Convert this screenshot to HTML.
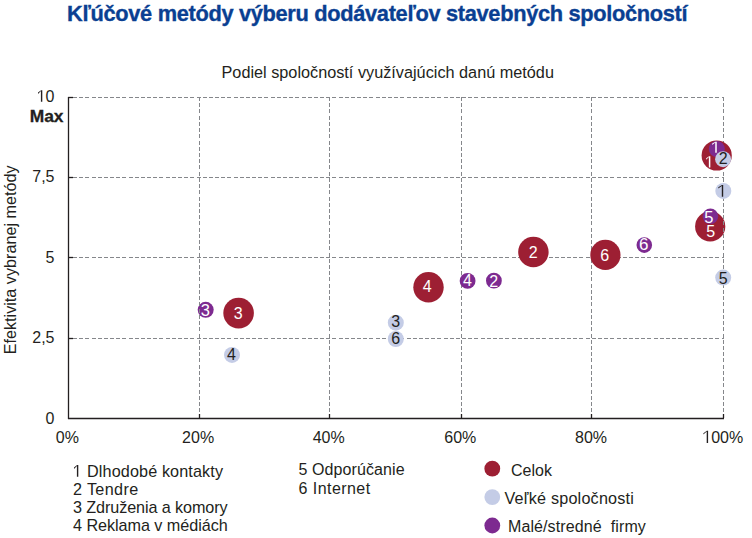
<!DOCTYPE html>
<html><head><meta charset="utf-8"><style>html,body{margin:0;padding:0;background:#fff;width:752px;height:538px;overflow:hidden}</style></head>
<body><svg width="752" height="538" viewBox="0 0 752 538" style="display:block;font-family:'Liberation Sans',sans-serif">
<rect width="752" height="538" fill="#fff"/>
<circle cx="710.2" cy="226.4" r="15.1" fill="#9d1f33"/>
<circle cx="205.7" cy="309.8" r="8" fill="#7d2a90"/><text x="205.4" y="315.91" text-anchor="middle" fill="#fff" style="font-size:16.5px">3</text>
<path d="M73 97.5H77M79 97.5H83M85 97.5H89M92 97.5H96M98 97.5H102M104 97.5H108M110 97.5H114M116 97.5H120M122 97.5H126M129 97.5H133M135 97.5H139M141 97.5H145M147 97.5H151M153 97.5H157M159 97.5H163M166 97.5H170M172 97.5H176M178 97.5H182M184 97.5H188M190 97.5H194M197 97.5H201M203 97.5H207M209 97.5H213M215 97.5H219M221 97.5H225M227 97.5H231M234 97.5H238M240 97.5H244M246 97.5H250M252 97.5H256M258 97.5H262M264 97.5H268M271 97.5H275M277 97.5H281M283 97.5H287M289 97.5H293M295 97.5H299M302 97.5H306M308 97.5H312M314 97.5H318M320 97.5H324M326 97.5H330M332 97.5H336M339 97.5H343M345 97.5H349M351 97.5H355M357 97.5H361M363 97.5H367M369 97.5H373M376 97.5H380M382 97.5H386M388 97.5H392M394 97.5H398M400 97.5H404M407 97.5H411M413 97.5H417M419 97.5H423M425 97.5H429M431 97.5H435M437 97.5H441M444 97.5H448M450 97.5H454M456 97.5H460M462 97.5H466M468 97.5H472M474 97.5H478M481 97.5H485M487 97.5H491M493 97.5H497M499 97.5H503M505 97.5H509M512 97.5H516M518 97.5H522M524 97.5H528M530 97.5H534M536 97.5H540M542 97.5H546M549 97.5H553M555 97.5H559M561 97.5H565M567 97.5H571M573 97.5H577M579 97.5H583M586 97.5H590M592 97.5H596M598 97.5H602M604 97.5H608M610 97.5H614M617 97.5H621M623 97.5H627M629 97.5H633M635 97.5H639M641 97.5H645M647 97.5H651M654 97.5H658M660 97.5H664M666 97.5H670M672 97.5H676M678 97.5H682M684 97.5H688M691 97.5H695M697 97.5H701M703 97.5H707M709 97.5H713M715 97.5H719M722 97.5H724" stroke="#85878b" stroke-width="1" fill="none"/><path d="M73 177.5H77M79 177.5H83M85 177.5H89M92 177.5H96M98 177.5H102M104 177.5H108M110 177.5H114M116 177.5H120M122 177.5H126M129 177.5H133M135 177.5H139M141 177.5H145M147 177.5H151M153 177.5H157M159 177.5H163M166 177.5H170M172 177.5H176M178 177.5H182M184 177.5H188M190 177.5H194M197 177.5H201M203 177.5H207M209 177.5H213M215 177.5H219M221 177.5H225M227 177.5H231M234 177.5H238M240 177.5H244M246 177.5H250M252 177.5H256M258 177.5H262M264 177.5H268M271 177.5H275M277 177.5H281M283 177.5H287M289 177.5H293M295 177.5H299M302 177.5H306M308 177.5H312M314 177.5H318M320 177.5H324M326 177.5H330M332 177.5H336M339 177.5H343M345 177.5H349M351 177.5H355M357 177.5H361M363 177.5H367M369 177.5H373M376 177.5H380M382 177.5H386M388 177.5H392M394 177.5H398M400 177.5H404M407 177.5H411M413 177.5H417M419 177.5H423M425 177.5H429M431 177.5H435M437 177.5H441M444 177.5H448M450 177.5H454M456 177.5H460M462 177.5H466M468 177.5H472M474 177.5H478M481 177.5H485M487 177.5H491M493 177.5H497M499 177.5H503M505 177.5H509M512 177.5H516M518 177.5H522M524 177.5H528M530 177.5H534M536 177.5H540M542 177.5H546M549 177.5H553M555 177.5H559M561 177.5H565M567 177.5H571M573 177.5H577M579 177.5H583M586 177.5H590M592 177.5H596M598 177.5H602M604 177.5H608M610 177.5H614M617 177.5H621M623 177.5H627M629 177.5H633M635 177.5H639M641 177.5H645M647 177.5H651M654 177.5H658M660 177.5H664M666 177.5H670M672 177.5H676M678 177.5H682M684 177.5H688M691 177.5H695M697 177.5H701M703 177.5H707M709 177.5H713M715 177.5H719M722 177.5H724" stroke="#85878b" stroke-width="1" fill="none"/><path d="M73 257.5H77M79 257.5H83M85 257.5H89M92 257.5H96M98 257.5H102M104 257.5H108M110 257.5H114M116 257.5H120M122 257.5H126M129 257.5H133M135 257.5H139M141 257.5H145M147 257.5H151M153 257.5H157M159 257.5H163M166 257.5H170M172 257.5H176M178 257.5H182M184 257.5H188M190 257.5H194M197 257.5H201M203 257.5H207M209 257.5H213M215 257.5H219M221 257.5H225M227 257.5H231M234 257.5H238M240 257.5H244M246 257.5H250M252 257.5H256M258 257.5H262M264 257.5H268M271 257.5H275M277 257.5H281M283 257.5H287M289 257.5H293M295 257.5H299M302 257.5H306M308 257.5H312M314 257.5H318M320 257.5H324M326 257.5H330M332 257.5H336M339 257.5H343M345 257.5H349M351 257.5H355M357 257.5H361M363 257.5H367M369 257.5H373M376 257.5H380M382 257.5H386M388 257.5H392M394 257.5H398M400 257.5H404M407 257.5H411M413 257.5H417M419 257.5H423M425 257.5H429M431 257.5H435M437 257.5H441M444 257.5H448M450 257.5H454M456 257.5H460M462 257.5H466M468 257.5H472M474 257.5H478M481 257.5H485M487 257.5H491M493 257.5H497M499 257.5H503M505 257.5H509M512 257.5H516M518 257.5H522M524 257.5H528M530 257.5H534M536 257.5H540M542 257.5H546M549 257.5H553M555 257.5H559M561 257.5H565M567 257.5H571M573 257.5H577M579 257.5H583M586 257.5H590M592 257.5H596M598 257.5H602M604 257.5H608M610 257.5H614M617 257.5H621M623 257.5H627M629 257.5H633M635 257.5H639M641 257.5H645M647 257.5H651M654 257.5H658M660 257.5H664M666 257.5H670M672 257.5H676M678 257.5H682M684 257.5H688M691 257.5H695M697 257.5H701M703 257.5H707M709 257.5H713M715 257.5H719M722 257.5H724" stroke="#85878b" stroke-width="1" fill="none"/><path d="M73 338.5H77M79 338.5H83M85 338.5H89M92 338.5H96M98 338.5H102M104 338.5H108M110 338.5H114M116 338.5H120M122 338.5H126M129 338.5H133M135 338.5H139M141 338.5H145M147 338.5H151M153 338.5H157M159 338.5H163M166 338.5H170M172 338.5H176M178 338.5H182M184 338.5H188M190 338.5H194M197 338.5H201M203 338.5H207M209 338.5H213M215 338.5H219M221 338.5H225M227 338.5H231M234 338.5H238M240 338.5H244M246 338.5H250M252 338.5H256M258 338.5H262M264 338.5H268M271 338.5H275M277 338.5H281M283 338.5H287M289 338.5H293M295 338.5H299M302 338.5H306M308 338.5H312M314 338.5H318M320 338.5H324M326 338.5H330M332 338.5H336M339 338.5H343M345 338.5H349M351 338.5H355M357 338.5H361M363 338.5H367M369 338.5H373M376 338.5H380M382 338.5H386M388 338.5H392M394 338.5H398M400 338.5H404M407 338.5H411M413 338.5H417M419 338.5H423M425 338.5H429M431 338.5H435M437 338.5H441M444 338.5H448M450 338.5H454M456 338.5H460M462 338.5H466M468 338.5H472M474 338.5H478M481 338.5H485M487 338.5H491M493 338.5H497M499 338.5H503M505 338.5H509M512 338.5H516M518 338.5H522M524 338.5H528M530 338.5H534M536 338.5H540M542 338.5H546M549 338.5H553M555 338.5H559M561 338.5H565M567 338.5H571M573 338.5H577M579 338.5H583M586 338.5H590M592 338.5H596M598 338.5H602M604 338.5H608M610 338.5H614M617 338.5H621M623 338.5H627M629 338.5H633M635 338.5H639M641 338.5H645M647 338.5H651M654 338.5H658M660 338.5H664M666 338.5H670M672 338.5H676M678 338.5H682M684 338.5H688M691 338.5H695M697 338.5H701M703 338.5H707M709 338.5H713M715 338.5H719M722 338.5H724" stroke="#85878b" stroke-width="1" fill="none"/><path d="M199.5 97V101M199.5 103V107M199.5 109V113M199.5 116V120M199.5 122V126M199.5 128V132M199.5 134V138M199.5 141V145M199.5 147V151M199.5 153V157M199.5 159V163M199.5 165V169M199.5 172V176M199.5 178V182M199.5 184V188M199.5 190V194M199.5 197V201M199.5 203V207M199.5 209V213M199.5 215V219M199.5 221V225M199.5 228V232M199.5 234V238M199.5 240V244M199.5 246V250M199.5 253V257M199.5 259V263M199.5 265V269M199.5 271V275M199.5 277V281M199.5 284V288M199.5 290V294M199.5 296V300M199.5 302V306M199.5 309V313M199.5 315V319M199.5 321V325M199.5 327V331M199.5 334V338M199.5 340V344M199.5 346V350M199.5 352V356M199.5 358V362M199.5 365V369M199.5 371V375M199.5 377V381M199.5 383V387M199.5 390V394M199.5 396V400M199.5 402V406M199.5 408V412" stroke="#85878b" stroke-width="1" fill="none"/><path d="M329.5 97V101M329.5 103V107M329.5 109V113M329.5 116V120M329.5 122V126M329.5 128V132M329.5 134V138M329.5 141V145M329.5 147V151M329.5 153V157M329.5 159V163M329.5 165V169M329.5 172V176M329.5 178V182M329.5 184V188M329.5 190V194M329.5 197V201M329.5 203V207M329.5 209V213M329.5 215V219M329.5 221V225M329.5 228V232M329.5 234V238M329.5 240V244M329.5 246V250M329.5 253V257M329.5 259V263M329.5 265V269M329.5 271V275M329.5 277V281M329.5 284V288M329.5 290V294M329.5 296V300M329.5 302V306M329.5 309V313M329.5 315V319M329.5 321V325M329.5 327V331M329.5 334V338M329.5 340V344M329.5 346V350M329.5 352V356M329.5 358V362M329.5 365V369M329.5 371V375M329.5 377V381M329.5 383V387M329.5 390V394M329.5 396V400M329.5 402V406M329.5 408V412" stroke="#85878b" stroke-width="1" fill="none"/><path d="M461.5 97V101M461.5 103V107M461.5 109V113M461.5 116V120M461.5 122V126M461.5 128V132M461.5 134V138M461.5 141V145M461.5 147V151M461.5 153V157M461.5 159V163M461.5 165V169M461.5 172V176M461.5 178V182M461.5 184V188M461.5 190V194M461.5 197V201M461.5 203V207M461.5 209V213M461.5 215V219M461.5 221V225M461.5 228V232M461.5 234V238M461.5 240V244M461.5 246V250M461.5 253V257M461.5 259V263M461.5 265V269M461.5 271V275M461.5 277V281M461.5 284V288M461.5 290V294M461.5 296V300M461.5 302V306M461.5 309V313M461.5 315V319M461.5 321V325M461.5 327V331M461.5 334V338M461.5 340V344M461.5 346V350M461.5 352V356M461.5 358V362M461.5 365V369M461.5 371V375M461.5 377V381M461.5 383V387M461.5 390V394M461.5 396V400M461.5 402V406M461.5 408V412" stroke="#85878b" stroke-width="1" fill="none"/><path d="M591.5 97V101M591.5 103V107M591.5 109V113M591.5 116V120M591.5 122V126M591.5 128V132M591.5 134V138M591.5 141V145M591.5 147V151M591.5 153V157M591.5 159V163M591.5 165V169M591.5 172V176M591.5 178V182M591.5 184V188M591.5 190V194M591.5 197V201M591.5 203V207M591.5 209V213M591.5 215V219M591.5 221V225M591.5 228V232M591.5 234V238M591.5 240V244M591.5 246V250M591.5 253V257M591.5 259V263M591.5 265V269M591.5 271V275M591.5 277V281M591.5 284V288M591.5 290V294M591.5 296V300M591.5 302V306M591.5 309V313M591.5 315V319M591.5 321V325M591.5 327V331M591.5 334V338M591.5 340V344M591.5 346V350M591.5 352V356M591.5 358V362M591.5 365V369M591.5 371V375M591.5 377V381M591.5 383V387M591.5 390V394M591.5 396V400M591.5 402V406M591.5 408V412" stroke="#85878b" stroke-width="1" fill="none"/><path d="M723.5 97V101M723.5 103V107M723.5 109V113M723.5 116V120M723.5 122V126M723.5 128V132M723.5 134V138M723.5 141V145M723.5 147V151M723.5 153V157M723.5 159V163M723.5 165V169M723.5 172V176M723.5 178V182M723.5 184V188M723.5 190V194M723.5 197V201M723.5 203V207M723.5 209V213M723.5 215V219M723.5 221V225M723.5 228V232M723.5 234V238M723.5 240V244M723.5 246V250M723.5 253V257M723.5 259V263M723.5 265V269M723.5 271V275M723.5 277V281M723.5 284V288M723.5 290V294M723.5 296V300M723.5 302V306M723.5 309V313M723.5 315V319M723.5 321V325M723.5 327V331M723.5 334V338M723.5 340V344M723.5 346V350M723.5 352V356M723.5 358V362M723.5 365V369M723.5 371V375M723.5 377V381M723.5 383V387M723.5 390V394M723.5 396V400M723.5 402V406M723.5 408V412M723.5 414V418" stroke="#85878b" stroke-width="1" fill="none"/>
<text x="710.6" y="236.93" text-anchor="middle" fill="#fff" style="font-size:16px">5</text>
<circle cx="238.6" cy="313.1" r="15.3" fill="#9d1f33"/><text x="238.2" y="319.23" text-anchor="middle" fill="#fff" style="font-size:16px">3</text><circle cx="428.5" cy="287.3" r="15.2" fill="#9d1f33"/><text x="427.3" y="291.73" text-anchor="middle" fill="#fff" style="font-size:16px">4</text><circle cx="533.4" cy="252" r="15.2" fill="#9d1f33"/><text x="533.3" y="257.93" text-anchor="middle" fill="#fff" style="font-size:16px">2</text><circle cx="605.4" cy="254.9" r="15.1" fill="#9d1f33"/><text x="604.7" y="260.93" text-anchor="middle" fill="#fff" style="font-size:16px">6</text><circle cx="716.7" cy="155.5" r="15.1" fill="#9d1f33"/><path d="M708.85,167.60 L708.85,157.10 L706.20,159.70 L706.20,158.20 L709.05,156.30 L710.35,156.30 L710.35,167.60 Z" fill="#fff"/><circle cx="232" cy="354.9" r="8" fill="#c4cce6"/><text x="231.4" y="359.73" text-anchor="middle" fill="#231f20" style="font-size:16px">4</text><circle cx="395.8" cy="322.7" r="8" fill="#c4cce6"/><text x="395.8" y="326.83" text-anchor="middle" fill="#231f20" style="font-size:16px">3</text><circle cx="395.8" cy="339" r="8" fill="#c4cce6"/><text x="395.8" y="344.33" text-anchor="middle" fill="#231f20" style="font-size:16px">6</text><circle cx="723.3" cy="190.9" r="8" fill="#c4cce6"/><path d="M721.80,196.70 L721.80,185.90 L718.30,188.60 L718.30,187.20 L722.00,185.10 L723.20,185.10 L723.20,196.70 Z" fill="#231f20"/><circle cx="723.2" cy="277.6" r="8" fill="#c4cce6"/><text x="723.3" y="283.83" text-anchor="middle" fill="#231f20" style="font-size:16px">5</text><circle cx="467.6" cy="280.9" r="7.9" fill="#7d2a90"/><text x="467.4" y="286.23" text-anchor="middle" fill="#fff" style="font-size:16px">4</text><circle cx="493.9" cy="280.7" r="7.9" fill="#7d2a90"/><text x="493.6" y="286.63" text-anchor="middle" fill="#fff" style="font-size:16px">2</text><circle cx="644.3" cy="245.1" r="7.8" fill="#7d2a90"/><text x="643.7" y="250.09" text-anchor="middle" fill="#fff" style="font-size:17px">6</text>
<g></g>
<line x1="68.5" y1="97" x2="68.5" y2="419" stroke="#231f20" stroke-width="1.3"/><line x1="68" y1="418.5" x2="724" y2="418.5" stroke="#231f20" stroke-width="1.3"/><line x1="68" y1="97.5" x2="73" y2="97.5" stroke="#231f20" stroke-width="1.3"/><line x1="68" y1="177.5" x2="73" y2="177.5" stroke="#231f20" stroke-width="1.3"/><line x1="68" y1="257.5" x2="73" y2="257.5" stroke="#231f20" stroke-width="1.3"/><line x1="68" y1="338.5" x2="73" y2="338.5" stroke="#231f20" stroke-width="1.3"/><line x1="199.5" y1="414" x2="199.5" y2="418" stroke="#231f20" stroke-width="1.3"/><line x1="329.5" y1="414" x2="329.5" y2="418" stroke="#231f20" stroke-width="1.3"/><line x1="461.5" y1="414" x2="461.5" y2="418" stroke="#231f20" stroke-width="1.3"/><line x1="591.5" y1="414" x2="591.5" y2="418" stroke="#231f20" stroke-width="1.3"/><line x1="723.5" y1="414" x2="723.5" y2="418" stroke="#231f20" stroke-width="1.3"/>
<circle cx="716.8" cy="149" r="8" fill="#7d2a90"/><path d="M715.25,152.80 L715.25,142.60 L712.20,144.90 L712.20,143.40 L715.45,141.80 L716.75,141.80 L716.75,152.80 Z" fill="#fff"/><circle cx="723.1" cy="159.2" r="8" fill="#c4cce6"/><text x="723.2" y="163.93" text-anchor="middle" fill="#231f20" style="font-size:16px">2</text>
<circle cx="710.4" cy="216.3" r="7.8" fill="#7d2a90"/><text x="708.9" y="223.21" text-anchor="middle" fill="#fff" style="font-size:16.5px">5</text>
<text x="67" y="20.8" fill="#0a3f92" stroke="#0a3f92" stroke-width="0.35" style="font-size:21.8px;font-weight:bold;letter-spacing:-0.32px">Kľúčové metódy výberu dodávateľov stavebných spoločností</text><text x="221.5" y="78" fill="#231f20" style="font-size:16.25px">Podiel spoločností využívajúcich danú metódu</text><text x="0" y="0" transform="translate(16.4,354.3) rotate(-90)" fill="#231f20" style="font-size:16.2px">Efektivita vybranej metódy</text><path d="M40.90,101.80 L40.90,91.10 L38.00,93.90 L38.00,92.50 L41.10,90.30 L42.30,90.30 L42.30,101.80 Z" fill="#231f20"/><text x="54.5" y="102.05" text-anchor="end" fill="#231f20" style="font-size:16px">0</text><text x="54.5" y="181.80" text-anchor="end" fill="#231f20" style="font-size:16px">7,5</text><text x="54.5" y="262.80" text-anchor="end" fill="#231f20" style="font-size:16px">5</text><text x="54.5" y="342.80" text-anchor="end" fill="#231f20" style="font-size:16px">2,5</text><text x="54.5" y="423.80" text-anchor="end" fill="#231f20" style="font-size:16px">0</text><text x="63.5" y="121.6" text-anchor="end" fill="#231f20" stroke="#231f20" stroke-width="0.3" style="font-size:17.4px;font-weight:bold">Max</text><path d="M706.70,442.90 L706.70,431.60 L703.40,434.60 L703.40,433.20 L706.90,430.80 L708.10,430.80 L708.10,442.90 Z" fill="#231f20"/><text x="711.2" y="443" fill="#231f20" style="font-size:16px">00%</text><text x="67.4" y="443" text-anchor="middle" fill="#231f20" style="font-size:16px">0%</text><text x="198.1" y="443" text-anchor="middle" fill="#231f20" style="font-size:16px">20%</text><text x="328.7" y="443" text-anchor="middle" fill="#231f20" style="font-size:16px">40%</text><text x="460.3" y="443" text-anchor="middle" fill="#231f20" style="font-size:16px">60%</text><text x="591" y="443" text-anchor="middle" fill="#231f20" style="font-size:16px">80%</text><text x="73" y="495" fill="#231f20" style="font-size:16.2px;letter-spacing:0.35px">2 Tendre</text><text x="73" y="513" fill="#231f20" style="font-size:16.2px;letter-spacing:-0.1px">3 Združenia a komory</text><text x="73" y="531" fill="#231f20" style="font-size:16.2px;letter-spacing:-0.05px">4 Reklama v médiách</text><text x="298.5" y="475" fill="#231f20" style="font-size:16px;letter-spacing:0.1px">5 Odporúčanie</text><text x="298.5" y="494" fill="#231f20" style="font-size:16px;letter-spacing:0.45px">6 Internet</text><path d="M76.90,476.70 L76.90,465.90 L74.00,469.00 L74.00,467.60 L77.10,465.10 L78.30,465.10 L78.30,476.70 Z" fill="#231f20"/><text x="87" y="477" fill="#231f20" style="font-size:16.2px;letter-spacing:0.12px">Dlhodobé kontakty</text><circle cx="492.3" cy="468.7" r="7.9" fill="#9d1f33"/><circle cx="492.3" cy="497.1" r="7.9" fill="#c4cce6"/><circle cx="492.3" cy="525.5" r="7.9" fill="#7d2a90"/><text x="511" y="476" fill="#231f20" style="font-size:16px">Celok</text><text x="504.5" y="504" fill="#231f20" style="font-size:16.2px;letter-spacing:0.2px">Veľké spoločnosti</text><text x="508" y="532" fill="#231f20" style="font-size:16px;letter-spacing:0.1px;white-space:pre" xml:space="preserve">Malé/stredné  firmy</text>
</svg></body></html>
